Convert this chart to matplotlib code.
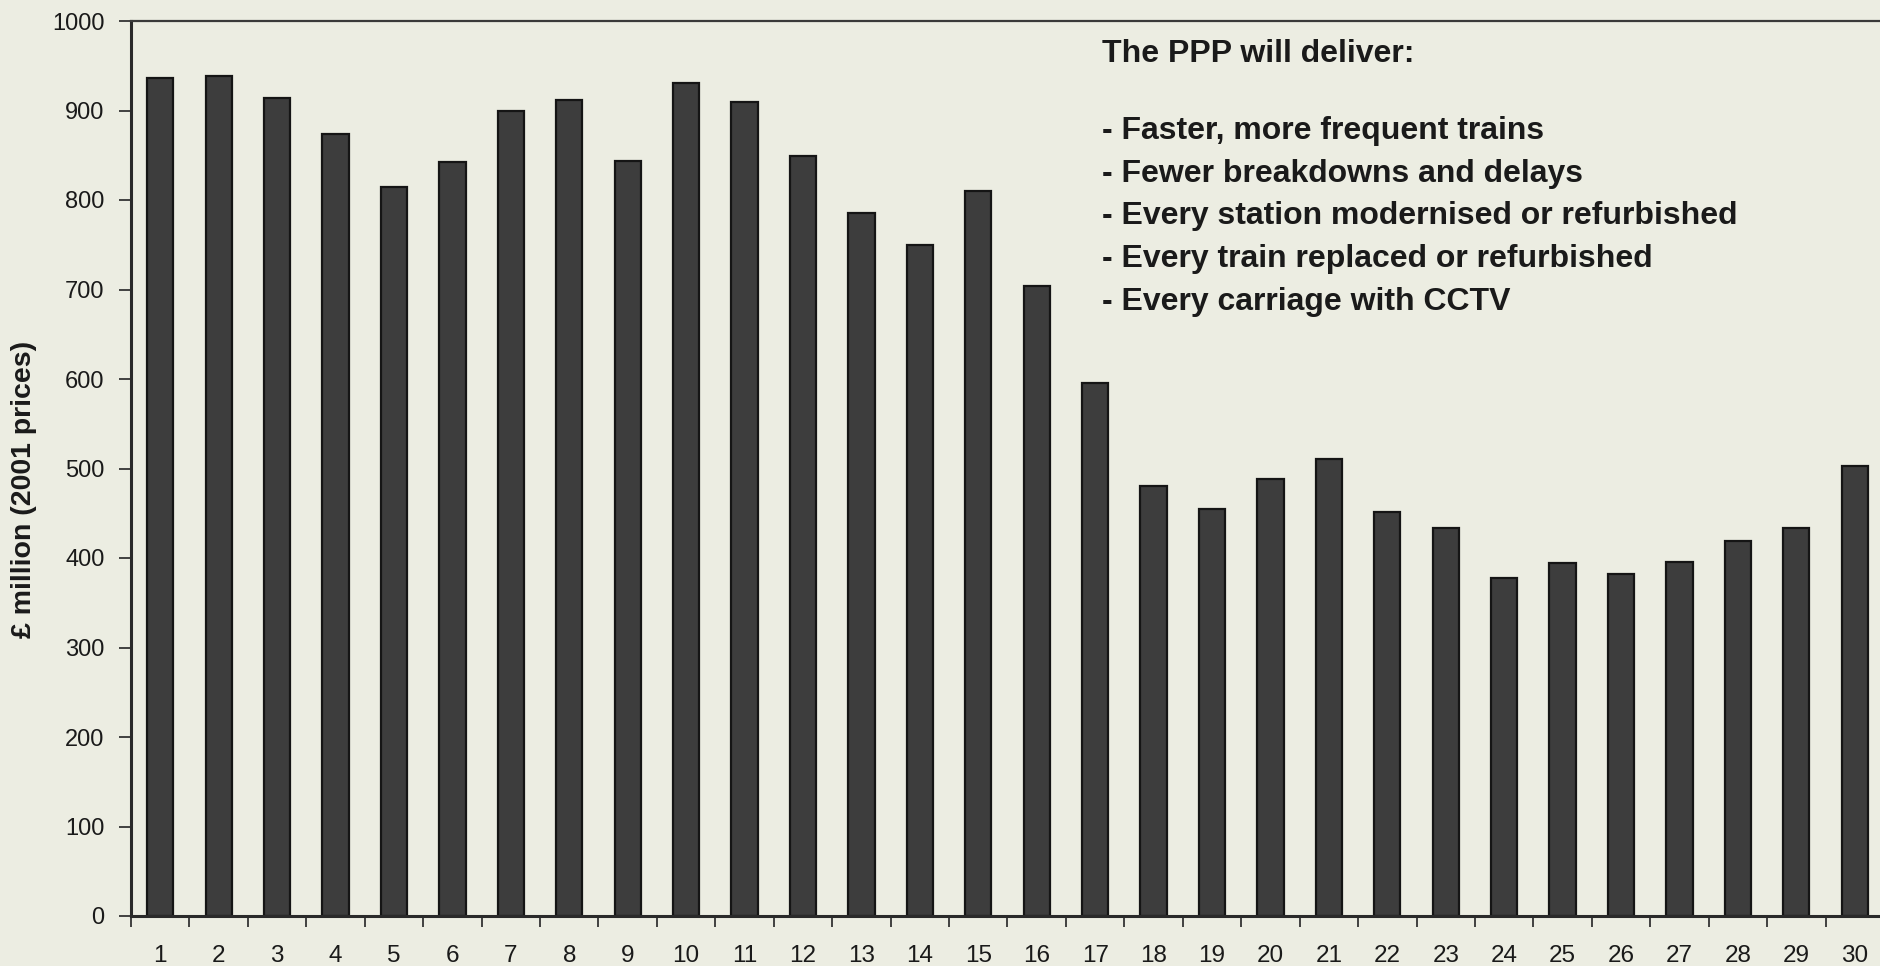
import numpy as np
import matplotlib
matplotlib.use("Agg")
import matplotlib.pyplot as plt
from matplotlib.ticker import FixedLocator

plt.rcParams['font.family'] = ['Liberation Sans', 'DejaVu Sans']

# Spending per year (£ million, 2001 prices)
years = list(range(1, 31))
values = [936, 939, 914, 874, 814, 843, 900, 912, 844, 931,
          910, 849, 786, 750, 810, 704, 595, 481, 455, 488,
          511, 451, 434, 378, 394, 382, 395, 419, 434, 503]

notes_title = "The PPP will deliver:"
notes = ["- Faster, more frequent trains",
         "- Fewer breakdowns and delays",
         "- Every station modernised or refurbished",
         "- Every train replaced or refurbished",
         "- Every carriage with CCTV"]

bg = "#ecede2"
fig = plt.figure(figsize=(18.8, 9.66), dpi=100, facecolor=bg)
ax = fig.add_axes([131 / 1880, 50 / 966, 1753 / 1880, 895 / 966])
ax.set_facecolor(bg)

ax.bar(years, values, width=0.45, color="#3d3d3d", edgecolor="#151515", linewidth=1.6)

ax.set_xlim(0.5, 30.5)
ax.set_ylim(0, 1000)
ax.set_yticks(np.arange(0, 1001, 100))

# category boundaries get the tick marks, centres carry the labels
ax.xaxis.set_major_locator(FixedLocator(np.arange(0.5, 31, 1)))
ax.xaxis.set_major_formatter(plt.NullFormatter())
ax.xaxis.set_minor_locator(FixedLocator(years))
ax.set_xticklabels([str(y) for y in years], minor=True)
ax.tick_params(axis="x", which="major", direction="out", length=8, width=1.3, color="#333333")
ax.tick_params(axis="x", which="minor", length=0, pad=21, labelsize=17.5, labelcolor="#1a1a1a")
ax.tick_params(axis="y", direction="out", length=9, width=1.3, color="#333333",
               pad=10, labelsize=17, labelcolor="#1a1a1a")

for side in ["left", "bottom"]:
    ax.spines[side].set_linewidth(2.2)
    ax.spines[side].set_color("#2a2a2a")
ax.spines["top"].set_linewidth(1.6)
ax.spines["top"].set_color("#3a3a3a")
ax.spines["right"].set_visible(False)

ax.set_ylabel("£ million (2001 prices)", fontsize=20.5, fontweight="bold", color="#1a1a1a")
ax.yaxis.set_label_coords(-0.0536, 0.477)

# text block, baselines
tx = 0.554
ax.text(tx, 0.954, notes_title, transform=ax.transAxes, fontsize=23,
        fontweight="bold", color="#1a1a1a", va="baseline", ha="left")
for i, line in enumerate(notes):
    ax.text(tx, 0.868 - i * 0.0476, line, transform=ax.transAxes, fontsize=23,
            fontweight="bold", color="#1a1a1a", va="baseline", ha="left")

fig.savefig("out.png", dpi=100, facecolor=bg)
